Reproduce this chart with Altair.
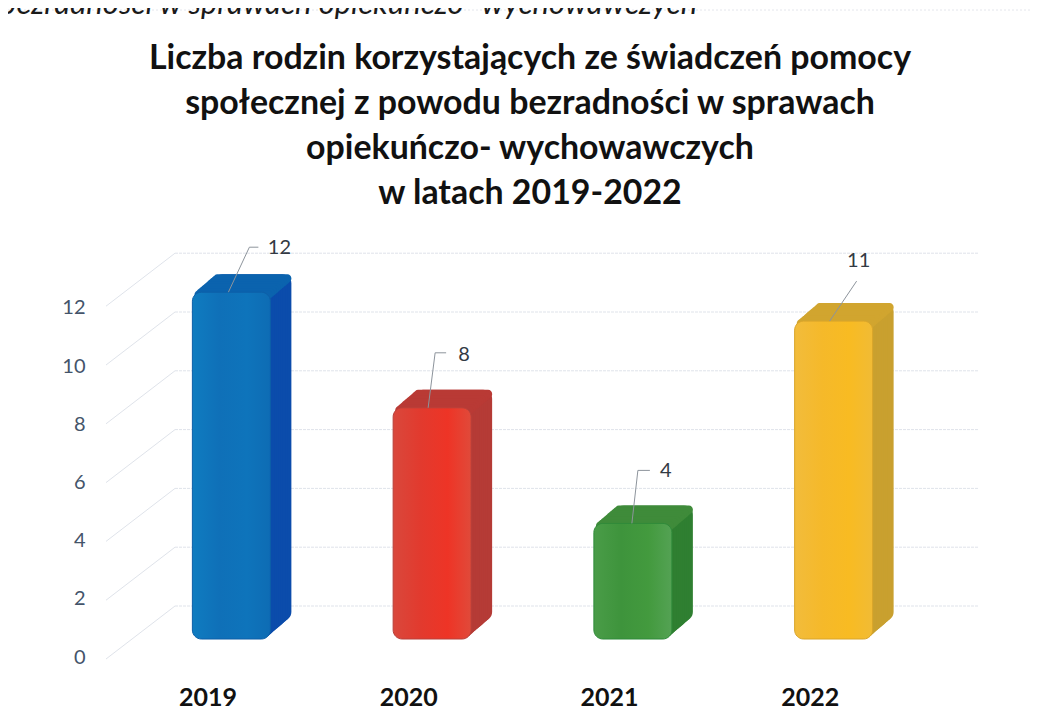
import altair as alt
import pandas as pd

# --- data ---
years = ["2019", "2020", "2021", "2022"]
values = [12, 8, 4, 11]
y_ticks = [0, 2, 4, 6, 8, 10, 12]
title_lines = [
    "Liczba rodzin korzystających ze świadczeń pomocy",
    "społecznej z powodu bezradności w sprawach",
    "opiekuńczo- wychowawczych",
    "w latach 2019-2022",
]
cut_text = "bezradności w sprawach opiekuńczo- wychowawczych"

# --- styles ---
side_colors = ["#0b4cab", "#b53b36", "#2f7f31", "#c9a02f"]
top_colors = ["#0b63ae", "#b93a35", "#3f8b3a", "#d1a52f"]
edge_colors = ["#0c5fa8", "#b8403a", "#2f8a3a", "#d9a52a"]
front_stops = [
    ["#0f7cc0", "#0f70b8", "#0e74bb", "#0e6cb4"],
    ["#d9483c", "#e23a2e", "#ee3426", "#e04a3a"],
    ["#4a9c48", "#3e943c", "#439a3e", "#54a254"],
    ["#f2bc3c", "#f5b92a", "#f8bb22", "#f1bb35"],
]
# leader geometry relative to each bar's front top-centre
leaders = [(-3, 0, 18, 45), (-4, 0, 3, 55), (-1, 0, 5, 53), (-4, 0, 23, 40)]
elbow_len = [9, 11, 12, 0]
label_off = [(48, 44), (32, 53), (33, 52), (25, 60)]

LEFT, TOP, W, H, RIGHT, BOTTOM = 167, 222, 803, 440, 52, 49
BAR_W = 78
FRONT_DX = -44
DEPTH_X, DEPTH_Y = 21, 18
STEPS = 10
TITLE_FIRST_BASELINE, TITLE_LINE_STEP = 69, 45
TITLE_CENTER = 530


def domain(zero_page, per_unit):
    """Value domain so value 0 sits at page y zero_page with per_unit px/unit."""
    top_page, bottom_page = TOP + 8, TOP + 8 + H
    return [(zero_page - bottom_page) / per_unit, (zero_page - top_page) / per_unit]


bar_scale = alt.Scale(domain=domain(639, 28.9), nice=False, zero=False)
grid_scale = alt.Scale(domain=domain(606, 29.4), nice=False, zero=False)
label_scale = alt.Scale(domain=domain(657, 29.1), nice=False, zero=False)

df = pd.DataFrame({
    "year": years,
    "value": values,
    "base": [0] * 4,
    "slab": [v - 0.3 for v in values],
    "side": side_colors,
    "top": top_colors,
    "edge": edge_colors,
})
ticks = pd.DataFrame({"v": y_ticks})

x_enc = alt.X(
    "year:N",
    sort=years,
    scale=alt.Scale(domain=years, paddingInner=0, paddingOuter=0),
    title=None,
    axis=alt.Axis(
        labelAngle=0, labelFont="Lato", labelFontWeight="bold", labelFontSize=25,
        labelColor="#111111", labelOffset=-67.5, labelPadding=15,
        domain=False, ticks=False, grid=False,
    ),
)

layers = []

# page frame from the scan and the cut-off line above the chart
layers.append(
    alt.Chart(ticks.head(1)).mark_rule(color="#e4e6ec", strokeDash=[2, 2], strokeWidth=1).encode(
        x=alt.value(-LEFT), x2=alt.value(W + RIGHT), y=alt.value(-TOP + 2)
    )
)
layers.append(
    alt.Chart(ticks.head(1)).mark_text(
        text=cut_text, font="Lato", fontStyle="italic", fontSize=31, align="left",
        baseline="alphabetic", color="#1a1a1a",
    ).encode(x=alt.value(-LEFT - 8), y=alt.value(-TOP + 6))
)

# title lines
for n, line in enumerate(title_lines):
    layers.append(
        alt.Chart(ticks.head(1)).mark_text(
            text=line, font="Lato", fontSize=33.9, fontWeight="bold", align="center",
            baseline="alphabetic", color="#111111",
        ).encode(
            x=alt.value(TITLE_CENTER - 8 - LEFT),
            y=alt.value(TITLE_FIRST_BASELINE + n * TITLE_LINE_STEP - 8 - TOP),
        )
    )

# back wall gridlines
layers.append(
    alt.Chart(ticks).mark_rule(color="#dfe3ea", strokeWidth=1, strokeDash=[3, 1]).encode(
        y=alt.Y("v:Q", scale=grid_scale, axis=alt.Axis(
            orient="left", values=y_ticks, grid=False, labels=False, ticks=False,
            domain=False, title=None)),
        x=alt.value(0),
        x2=alt.value(W),
    )
)
# side wall gridlines, running from the front edge to the back wall
layers.append(
    alt.Chart(ticks).mark_rule(color="#dfe3ea", strokeWidth=1, yOffset=53).encode(
        y=alt.Y("v:Q", scale=grid_scale, axis=None),
        y2=alt.Y2("v:Q"),
        x=alt.value(-69),
        x2=alt.value(0),
    )
)
# value axis labels
layers.append(
    alt.Chart(ticks).mark_point(opacity=0).encode(
        y=alt.Y("v:Q", scale=label_scale, title=None, axis=alt.Axis(
            orient="left", values=y_ticks, labelFont="Lato", labelFontSize=20,
            labelColor="#44546a", labelPadding=90, domain=False, ticks=False, grid=False)),
        x=alt.value(0),
    )
)

# extruded side faces
for k in range(STEPS, 0, -1):
    layers.append(
        alt.Chart(df).mark_bar(
            size=BAR_W, cornerRadius=9,
            xOffset=FRONT_DX + DEPTH_X * k / STEPS, yOffset=-DEPTH_Y * k / STEPS,
            y2Offset=-DEPTH_Y * k / STEPS,
        ).encode(
            x=x_enc,
            y=alt.Y("value:Q", scale=bar_scale, axis=None, stack=None),
            y2=alt.Y2("base:Q"),
            color=alt.Color("side:N", scale=None),
        )
    )
# extruded top faces
for k in range(STEPS, 0, -1):
    layers.append(
        alt.Chart(df).mark_bar(
            size=BAR_W, cornerRadius=4,
            xOffset=FRONT_DX + DEPTH_X * k / STEPS, yOffset=-DEPTH_Y * k / STEPS,
            y2Offset=-DEPTH_Y * k / STEPS,
        ).encode(
            x=x_enc,
            y=alt.Y("value:Q", scale=bar_scale, axis=None, stack=None),
            y2=alt.Y2("slab:Q"),
            color=alt.Color("top:N", scale=None),
        )
    )
# front faces
for i, yr in enumerate(years):
    grad = alt.LinearGradient(
        gradient="linear", x1=0, x2=1, y1=0, y2=0,
        stops=[alt.GradientStop(offset=o, color=c)
               for o, c in zip([0, 0.35, 0.7, 1], front_stops[i])],
    )
    layers.append(
        alt.Chart(df[df.year == yr]).mark_bar(
            size=BAR_W, cornerRadius=9, xOffset=FRONT_DX, fill=grad,
            stroke=edge_colors[i], strokeWidth=1,
        ).encode(
            x=x_enc,
            y=alt.Y("value:Q", scale=bar_scale, axis=None, stack=None),
            y2=alt.Y2("base:Q"),
        )
    )
# leaders and value labels
for i, yr in enumerate(years):
    sub = df[df.year == yr]
    sx, _, ex, ey = leaders[i]
    layers.append(
        alt.Chart(sub).mark_rule(
            color="#8d949c", strokeWidth=1,
            xOffset=FRONT_DX + sx, x2Offset=FRONT_DX + ex, yOffset=0, y2Offset=-ey,
        ).encode(
            x=x_enc, x2=alt.X2("year:N"),
            y=alt.Y("value:Q", scale=bar_scale, axis=None),
            y2=alt.Y2("value:Q"),
        )
    )
    if elbow_len[i]:
        layers.append(
            alt.Chart(sub).mark_rule(
                color="#8d949c", strokeWidth=1,
                xOffset=FRONT_DX + ex, x2Offset=FRONT_DX + ex + elbow_len[i],
                yOffset=-ey, y2Offset=-ey,
            ).encode(
                x=x_enc, x2=alt.X2("year:N"),
                y=alt.Y("value:Q", scale=bar_scale, axis=None),
                y2=alt.Y2("value:Q"),
            )
        )
    lx, ly = label_off[i]
    layers.append(
        alt.Chart(sub).mark_text(
            font="Lato", fontSize=20, color="#333a44", align="center", baseline="middle",
            xOffset=FRONT_DX + lx, yOffset=-ly,
        ).encode(
            x=x_enc,
            y=alt.Y("value:Q", scale=bar_scale, axis=None),
            text=alt.Text("value:Q"),
        )
    )

chart = (
    alt.layer(*layers)
    .resolve_scale(y="independent")
    .resolve_axis(y="independent")
    .properties(
        width=W,
        height=H,
        padding={"left": LEFT, "top": TOP, "right": RIGHT, "bottom": BOTTOM},
        autosize=alt.AutoSizeParams(type="none"),
        background="#ffffff",
    )
    .configure_view(stroke=None)
)
chart.save("out.html", embed_options={"renderer": "svg", "actions": False})
